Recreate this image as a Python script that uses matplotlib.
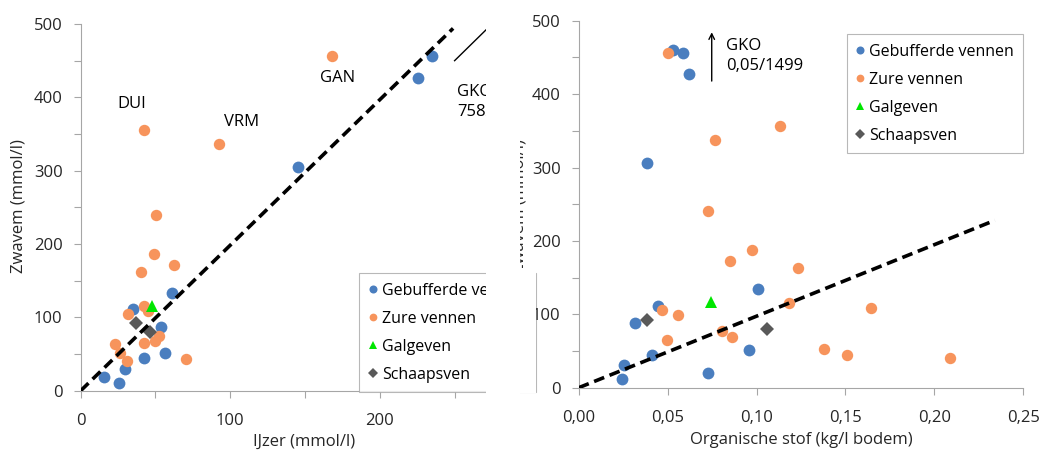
import matplotlib
matplotlib.use("Agg")
import matplotlib.pyplot as plt
from matplotlib.patches import Rectangle

plt.rcParams['font.family'] = ['Open Sans', 'DejaVu Sans']

# --- left panel: IJzer vs zwavel ---
geb_fe = [235, 225.4, 145.3, 61.3, 35, 53.9, 42.1, 56.6, 29.6, 15.8, 25.4]
geb_s1 = [456, 427, 305, 133, 111, 87, 44, 52, 29, 18, 11]
zure_fe = [168, 42.6, 92.6, 50.2, 48.9, 62.5, 40.6, 42.3, 44.8, 31.6,
           52.2, 49.7, 42.6, 22.9, 26.1, 31.2, 70.2]
zure_s1 = [456, 355, 337, 240, 186, 172, 162, 115, 108, 105,
           75, 68, 65, 64, 52, 40, 43]
galg_fe = [47.9]
galg_s1 = [116]
schaap_fe = [36.8, 46.4]
schaap_s1 = [92, 80]

# --- right panel: organische stof vs zwavel ---
geb_os = [0.0532, 0.0588, 0.0620, 0.0382, 0.1008, 0.0448, 0.0315, 0.0410,
          0.0958, 0.0257, 0.0245, 0.0725]
geb_s2 = [460, 456, 427, 306, 134, 111, 88, 45, 52, 31, 12, 20]
zure_os = [0.0502, 0.1134, 0.0768, 0.0725, 0.0973, 0.0849, 0.1235, 0.1181,
           0.1644, 0.0467, 0.0560, 0.0804, 0.0860, 0.0495, 0.1379, 0.1510, 0.2090]
zure_s2 = [456, 356, 337, 241, 187, 173, 163, 116, 109, 106, 99, 77, 69, 65,
           53, 44, 41]
galg_os = [0.0742]
galg_s2 = [117]
schaap_os = [0.0382, 0.1057]
schaap_s2 = [92, 80]

labels = ['Gebufferde vennen', 'Zure vennen', 'Galgeven', 'Schaapsven']
colors = ['#4A7EBF', '#F7945C', '#00E600', '#595959']
markers = ['o', 'o', '^', 'D']
sizes = [8.5, 8.2, 8.5, 7.5]

fig = plt.figure(figsize=(10.44, 4.53), dpi=100)
W, H = 1044, 453
ax1 = fig.add_axes([80.7 / W, 62.3 / H, (486 - 80.7) / W, (390.7 - 24) / H])
ax2 = fig.add_axes([578.7 / W, 65.3 / H, (1023.3 - 578.7) / W, (387.7 - 20.7) / H])


def style(ax):
    for s in ['top', 'right']:
        ax.spines[s].set_visible(False)
    for s in ['left', 'bottom']:
        ax.spines[s].set_color('#A6A6A6')
    ax.tick_params(colors='#A6A6A6', labelcolor='#262626', labelsize=12,
                   length=5, width=0.8)
    ax.tick_params(axis='y', pad=8)
    ax.tick_params(axis='x', pad=11)
    ax.set_ylim(0, 500)
    ax.set_yticks(range(0, 501, 50))
    ax.set_yticklabels([str(v) if v % 100 == 0 else '' for v in range(0, 501, 50)])
    ax.set_ylabel('Zwavem (mmol/l)', fontsize=12, color='#262626', va='center')


series1 = [(geb_fe, geb_s1), (zure_fe, zure_s1), (galg_fe, galg_s1), (schaap_fe, schaap_s1)]
series2 = [(geb_os, geb_s2), (zure_os, zure_s2), (galg_os, galg_s2), (schaap_os, schaap_s2)]

for ax, series in [(ax1, series1), (ax2, series2)]:
    style(ax)
    for (xs, ys), lab, c, m, ms in zip(series, labels, colors, markers, sizes):
        ax.plot(xs, ys, linestyle='none', marker=m, color=c, markersize=ms,
                markeredgewidth=0, label=lab, clip_on=False, zorder=3)

# left panel
ax1.set_xlim(0, 271)
ax1.set_xticks(range(0, 251, 50))
ax1.set_xticklabels([str(v) if v % 100 == 0 else '' for v in range(0, 251, 50)])
ax1.set_xlabel('IJzer (mmol/l)', fontsize=12, color='#262626', va='center')
ax1.xaxis.set_label_coords((304 - 80.7) / 405.3, -(442 - 390.7) / 366.7)
ax1.yaxis.set_label_coords((19 - 80.7) / 405.3, (390.7 - 206) / 366.7)
ax1.plot([0, 249], [0, 494], color='black', lw=2.6, dashes=(3, 1.6), zorder=4)
ax1.plot([250, 272], [450, 494], color='black', lw=1.0, zorder=4)
ax1.text(34, 391, 'DUI', fontsize=12, ha='center', va='center')
ax1.text(107.6, 366, 'VRM', fontsize=12, ha='center', va='center')
ax1.text(171.9, 427, 'GAN', fontsize=12, ha='center', va='center')
ax1.text(251.5, 394, 'GKO\n758/1499', fontsize=12, ha='left', va='center',
         linespacing=1.3, clip_on=True)
leg1 = ax1.legend(loc='upper left', bbox_to_anchor=((359.3 - 80.7) / 405.3, (390.7 - 273.3) / 366.7),
                  fontsize=11.5, frameon=True, fancybox=False, edgecolor='#A6A6A6',
                  markerscale=0.68, handlelength=0.5, handletextpad=0.3,
                  labelspacing=0.75, borderpad=0.6, borderaxespad=0)
leg1.get_frame().set_linewidth(0.8)

# right panel
ax2.set_xlim(0, 0.25)
ax2.set_xticks([0, 0.05, 0.10, 0.15, 0.20, 0.25])
ax2.set_xticklabels(['0,00', '0,05', '0,10', '0,15', '0,20', '0,25'])
ax2.set_xlabel('Organische stof (kg/l bodem)', fontsize=12, color='#262626', va='center')
ax2.xaxis.set_label_coords((801 - 578.7) / 444.6, -(440 - 387.7) / 367.0)
ax2.yaxis.set_label_coords((519 - 578.7) / 444.6, (387.7 - 206) / 367.0)
ax2.plot([0, 0.234], [0, 228], color='black', lw=2.6, dashes=(3, 1.6), zorder=4)
ax2.annotate('', xy=(0.0748, 488), xytext=(0.0748, 414),
             arrowprops=dict(arrowstyle='->', color='black', lw=1.0))
ax2.text(0.0828, 452, 'GKO\n0,05/1499', fontsize=12, ha='left', va='center',
         linespacing=1.3)
leg2 = ax2.legend(loc='upper right', bbox_to_anchor=(1.0, (387.7 - 34) / 367.0),
                  fontsize=11.5, frameon=True, fancybox=False, edgecolor='#A6A6A6',
                  markerscale=0.68, handlelength=0.5, handletextpad=0.3,
                  labelspacing=0.75, borderpad=0.6, borderaxespad=0)
leg2.get_frame().set_linewidth(0.8)

# the reference is two charts pasted side by side, both cropped at x=520;
# the left chart is also cut off at its right edge
fig.patches.append(Rectangle((486 / W, 0), (520 - 486) / W, 1, transform=fig.transFigure,
                             facecolor='white', edgecolor='none', zorder=10))
fig.patches.append(Rectangle((520 / W, 60 / H), (536 - 520) / W, (185 - 60) / H,
                             transform=fig.transFigure,
                             facecolor='white', edgecolor='none', zorder=10))

fig.savefig('out.png', dpi=100, facecolor='white')
